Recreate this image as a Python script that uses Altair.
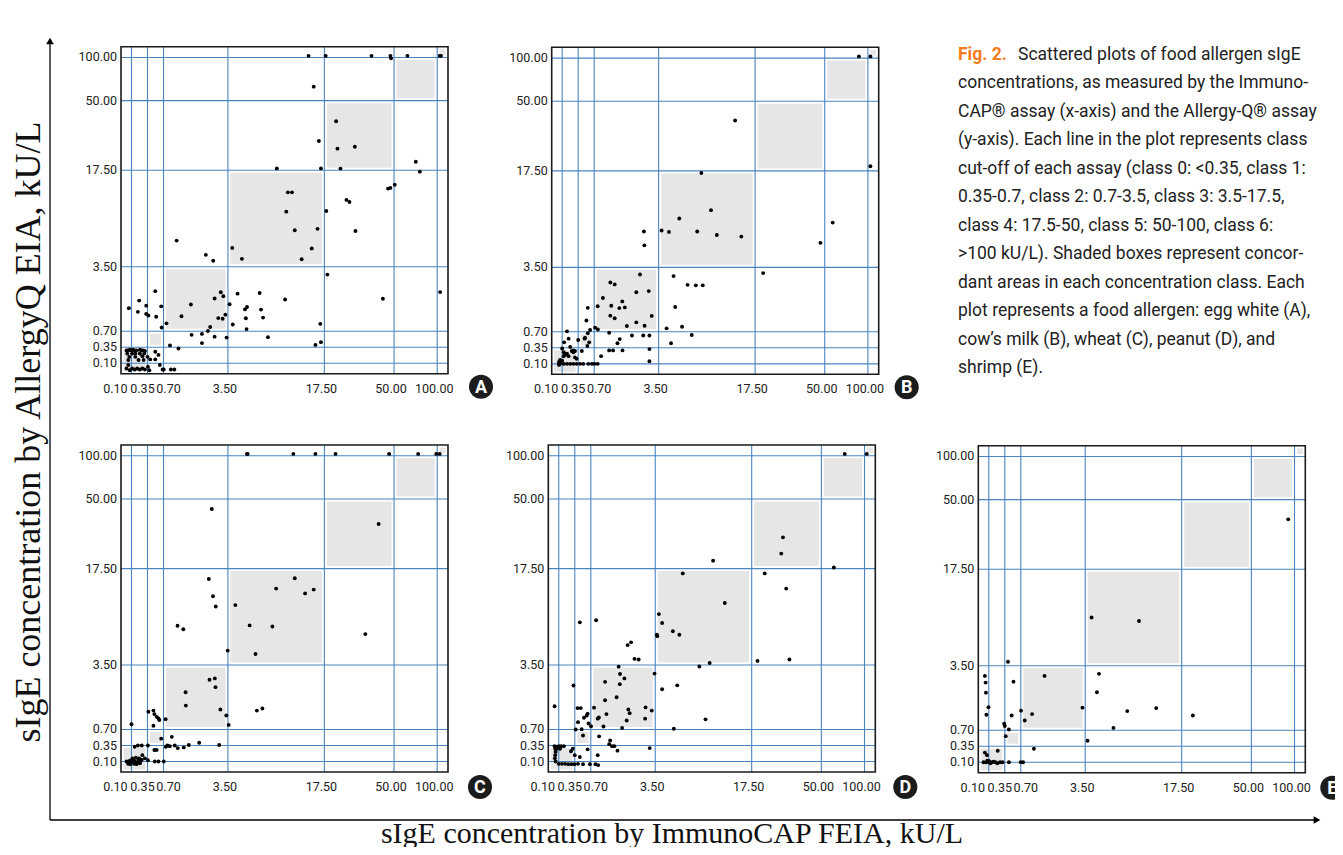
import altair as alt
import pandas as pd

# ---------------- data ----------------
TICKS = [0.1, 0.35, 0.7, 3.5, 17.5, 50, 100]
TICK_LABELS = ["0.10", "0.35", "0.70", "3.50", "17.50", "50.00", "100.00"]
CLASS_LO = [0, 0.35, 0.7, 3.5, 17.5, 50, 100]
CLASS_HI = [0.35, 0.7, 3.5, 17.5, 50, 100, 113]
DOMAIN = [0, 0.1, 0.35, 0.7, 3.5, 17.5, 50, 100, 113]
FRACTIONS = [0, 0.032, 0.081, 0.130, 0.327, 0.622, 0.835, 0.967, 1.0]

panel_A = [(15.2,102),(18.1,102),(39.5,102),(48.3,102),(48.6,99),(65.5,102),(103,102),(104.6,102),
 (15.95,66.2),(22.96,40.4),(16.7,31.2),(23.6,27.6),(31.7,28.5),
 (10.6,18.4),(17.0,18.4),(25.0,18.3),(75.2,21.5),(79.9,17.3),
 (47.2,14.85),(48.3,14.95),(50.8,15.4),(12.2,14.3),(12.8,14.3),(27.8,13.2),(29.2,12.9),
 (11.97,11.5),(18.4,11.6),(13.2,8.8),(16.5,9.0),(32.0,8.7),(1.27,7.3),(4.13,6.24),(15.66,6.15),
 (2.54,5.23),(2.86,4.37),(5.53,4.65),(14.2,4.6),(18.9,3.16),(103.5,2.4),(44.8,2.11),(11.8,2.08),
 (8.1,2.36),(4.9,2.33),(3.3,2.22),(3.19,2.39),(2.92,2.12),(3.74,1.87),(5.97,1.65),(6.27,1.75),
 (1.89,1.86),(1.48,1.35),(3.08,1.27),(3.39,1.42),(3.27,1.24),(6.1,1.26),(8.3,1.64),(8.6,1.29),
 (4.2,0.99),(6.2,0.79),(2.73,0.88),(2.63,0.71),(2.37,0.64),(1.92,0.62),(2.37,0.44),(2.92,0.58),
 (3.44,0.56),(9.3,0.57),(16.9,1.02),(16.2,0.40),(17.0,0.46),(0.83,1.04),(0.66,0.86),(0.65,1.78),
 (0.98,0.39),(1.35,0.33),(0.52,2.44),(0.33,1.81),(0.22,2.03),(0.075,1.7),(0.2,1.54),(0.33,1.45),
 (0.37,1.38),(0.54,1.33),
 (0.053,0.30),(0.066,0.30),(0.084,0.31),(0.10,0.30),(0.127,0.31),(0.153,0.30),(0.18,0.30),
 (0.233,0.31),(0.26,0.30),(0.286,0.30),(0.31,0.29),
 (0.06,0.25),(0.11,0.25),(0.16,0.25),(0.23,0.25),(0.30,0.25),
 (0.08,0.20),(0.16,0.20),(0.27,0.21),(0.35,0.20),
 (0.52,0.28),(0.59,0.23),(0.41,0.16),(0.52,0.16),(0.62,0.083),(0.68,0.04),(0.71,0.04),(1.02,0.04),(1.17,0.04),
 (0.07,0.15),(0.21,0.15),(0.29,0.15),
 (0.053,0.05),(0.084,0.033),(0.11,0.05),(0.15,0.04),(0.19,0.05),(0.23,0.04),(0.27,0.05),(0.31,0.04),
 (0.36,0.067),(0.07,0.083),(0.39,0.033)]

panel_B = [(89.6,102),(103,102),(103,19.7),(14.6,41.0),(9.7,17.2),(11.1,11.8),(6.5,10.6),(3.93,8.85),
 (5.0,8.65),(9.1,8.7),(11.95,8.2),(15.5,7.97),(2.86,8.7),(2.88,6.7),(59.2,10.0),(48.0,7.06),(21.25,3.25),
 (5.67,3.12),(7.7,2.74),(8.9,2.72),(9.9,2.72),(2.69,3.19),(3.07,2.47),(1.40,2.84),(1.59,2.76),(1.08,2.17),
 (2.53,2.42),(0.85,1.81),(1.44,1.83),(1.92,2.02),(1.79,1.73),(2.03,1.76),(0.56,1.74),(1.40,1.40),(1.59,1.29),
 (3.2,1.39),(5.9,1.78),(2.53,1.11),(2.89,0.96),(2.12,0.95),(0.53,1.19),(4.66,0.85),(6.9,0.92),(8.3,0.63),
 (2.34,0.62),(2.83,0.62),(3.1,0.62),(5.3,0.45),(3.1,0.33),(3.1,0.14),(1.35,0.68),(1.81,0.54),(1.71,0.45),
 (1.0,0.22),(1.35,0.31),(1.52,0.31),(1.93,0.31),(0.74,0.88),(0.86,0.80),(0.61,0.78),(0.56,0.67),(0.59,0.47),
 (0.55,0.39),(0.49,0.55),(0.50,0.57),(0.43,0.30),(0.35,0.52),(0.175,0.72),(0.2,0.55),(0.13,0.47),(0.1,0.34),
 (0.225,0.37),(0.275,0.31),(0.30,0.30),(0.25,0.30),
 (0.125,0.28),(0.15,0.25),(0.175,0.26),(0.2,0.22),(0.1,0.15),(0.07,0.13),(0.08,0.16),(0.125,0.22),
 (0.275,0.28),(0.3,0.20),(0.325,0.18),
 (0.07,0.1),(0.08,0.1),(0.125,0.1),(0.175,0.1),(0.225,0.1),(0.275,0.1),(0.325,0.1),(0.39,0.1),
 (0.46,0.1),(0.57,0.1),(0.65,0.1),(0.72,0.1),(0.85,0.1),(0.07,0.09),(0.08,0.12)]

panel_C = [(6.26,102.3),(6.36,102.3),(12.99,102.3),(16.2,102.3),(22.7,102.3),(47.7,102.3),(77.9,102.3),
 (98.9,102.3),(103,102.3),
 (2.80,45.3),(42.8,38.3),(2.67,16.0),(13.2,16.1),(10.5,14.6),(14.7,13.9),(15.95,14.45),(2.85,13.5),
 (2.97,12.0),(4.57,12.2),(1.31,9.2),(1.56,8.7),(6.65,9.26),(9.95,9.1),(36.6,8.0),(3.49,5.6),(7.5,5.1),
 (2.7,2.86),(2.93,2.92),(2.96,2.54),(1.66,2.32),(1.67,1.74),(3.17,1.57),(3.43,1.31),(3.6,0.9),(7.7,1.52),
 (8.5,1.61),(0.79,1.15),(0.37,1.47),(0.48,1.52),(0.5,1.37),(0.55,1.25),(0.59,1.18),(0.61,1.11),(0.48,0.86),
 (0.1,0.93),(0.65,0.5),(1.06,0.54),
 (0.87,0.35),(0.8,0.33),(0.97,0.34),(1.19,0.35),(1.32,0.31),(1.58,0.32),(1.8,0.36),(2.25,0.41),(3.12,0.36),
 (0.15,0.33),(0.2,0.35),(0.26,0.35),(0.36,0.35),(0.5,0.28),(0.55,0.28),(0.27,0.2),(0.31,0.15),(0.36,0.12),
 (0.51,0.1),(0.59,0.1),(0.71,0.1),
 (0.053,0.1),(0.069,0.09),(0.084,0.115),(0.10,0.1),(0.127,0.125),(0.153,0.1),(0.18,0.09),(0.21,0.125),
 (0.233,0.1),(0.069,0.078),(0.09,0.075),(0.14,0.078),(0.18,0.075),(0.233,0.084),(0.116,0.15),(0.17,0.16),
 (0.22,0.15),(0.26,0.125)]

panel_D = [(77.1,102.3),(102.7,102.3),(32.1,32.1),(31.3,24.5),(64.5,18.0),(11.9,21.2),(7.5,16.8),(23.6,16.8),
 (33.6,14.6),(13.6,12.5),(4.03,10.9),(4.5,9.6),(6.06,8.4),(7.0,7.9),(3.74,7.9),(3.8,7.7),(0.46,9.7),(0.93,10.0),
 (2.3,6.4),(2.45,6.8),(2.6,4.4),(2.78,4.3),(9.9,3.44),(11.4,3.8),(20.2,4.1),(35.1,4.3),
 (1.91,3.43),(1.97,3.11),(2.16,2.92),(3.47,3.13),(1.32,2.77),(1.96,2.67),(4.5,2.45),(6.7,2.62),(0.33,2.61),
 (1.32,1.97),(1.82,2.1),(1.38,1.37),(2.33,1.57),(2.39,1.41),(2.26,1.09),(2.06,0.77),(1.25,0.83),(1.05,1.22),
 (1.0,1.17),(0.84,1.65),(3.08,1.66),(3.35,1.52),(3.06,1.17),(10.8,1.14),(6.2,0.73),(0.06,1.71),(0.41,1.63),
 (0.48,1.63),(0.63,1.39),(0.61,1.3),(0.55,1.21),(0.42,1.02),(0.65,0.96),(0.71,0.84),(0.37,0.70),(0.5,0.71),
 (0.53,0.57),
 (1.06,0.55),(1.54,0.46),(1.5,0.38),(1.62,0.34),(1.72,0.34),(1.86,0.27),(0.63,0.29),(0.46,0.17),(0.35,0.2),
 (1.0,0.2),(3.26,0.31),(0.29,0.26),(0.32,0.3),
 (0.06,0.34),(0.073,0.33),(0.1,0.34),(0.134,0.34),(0.18,0.34),(0.066,0.3),(0.07,0.25),(0.066,0.2),
 (0.063,0.15),(0.07,0.1),(0.1,0.078),(0.15,0.078),(0.2,0.078),(0.25,0.075),(0.3,0.075),(0.345,0.075),
 (0.42,0.078),(0.53,0.075),(0.68,0.075),(0.9,0.075),(1.02,0.066),(0.08,0.3),(0.12,0.3)]

panel_E = [(92.7,40.8),(4.42,10.5),(11.3,10.0),(0.42,4.08),(1.73,3.06),(5.5,3.15),(5.2,2.35),(0.063,3.06),
 (0.07,2.77),(0.073,2.33),(0.097,1.7),(0.077,1.37),(0.54,2.81),(3.38,1.68),(9.6,1.53),(13.8,1.66),
 (22.7,1.34),(7.6,0.8),(3.84,0.47),(0.5,1.34),(0.71,1.55),(1.19,1.4),(0.87,1.12),(0.34,0.98),(0.35,0.88),
 (0.44,0.73),(0.37,0.57),(1.27,0.31),(0.24,0.28),(0.063,0.25),(0.083,0.21),
 (0.05,0.1),(0.077,0.1),(0.085,0.125),(0.115,0.1),(0.15,0.1),(0.175,0.11),(0.205,0.1),(0.235,0.09),
 (0.275,0.1),(0.315,0.1),(0.44,0.1),(0.70,0.1),(0.80,0.1),(0.125,0.09),(0.1,0.12)]

CAPTION_FIG = "Fig. 2."
CAPTION_FIRST = "Scattered plots of food allergen sIgE"
CAPTION_REST = [
    "concentrations, as measured by the Immuno-",
    "CAP\u00ae assay (x-axis) and the Allergy-Q\u00ae assay",
    "(y-axis). Each line in the plot represents class",
    "cut-off of each assay (class 0: <0.35, class 1:",
    "0.35-0.7, class 2: 0.7-3.5, class 3: 3.5-17.5,",
    "class 4: 17.5-50, class 5: 50-100, class 6:",
    ">100 kU/L). Shaded boxes represent concor-",
    "dant areas in each concentration class. Each",
    "plot represents a food allergen: egg white (A),",
    "cow\u2019s milk (B), wheat (C), peanut (D), and",
    "shrimp (E).",
]
Y_TITLE = "sIgE concentration by AllergyQ EIA, kU/L"
X_TITLE = "sIgE concentration by ImmunoCAP FEIA, kU/L"

# ---------------- style ----------------
BLUE = "#4a84bf"
NARROW = "Roboto, sans-serif"
SERIF = "Liberation Serif, Times New Roman, serif"
W = H = 327

tick_df = pd.DataFrame({"v": TICKS, "lab": TICK_LABELS})
box_df = pd.DataFrame({"lo": CLASS_LO, "hi": CLASS_HI})
one_df = pd.DataFrame({"k": [0]})


def panel(letter, pts, left, top, cdx, cdy):
    xs = alt.Scale(domain=DOMAIN, range=[left + f * W for f in FRACTIONS], nice=False, zero=False)
    ys = alt.Scale(domain=DOMAIN, range=[top + H - f * H for f in FRACTIONS], nice=False, zero=False)
    pdf = pd.DataFrame(pts, columns=["x", "y"])

    boxes = alt.Chart(box_df).mark_rect(fill="#e6e6e6", stroke="white", strokeWidth=5).encode(
        x=alt.X("lo:Q", scale=xs, axis=None), x2="hi:Q",
        y=alt.Y("lo:Q", scale=ys, axis=None), y2="hi:Q")
    vgrid = alt.Chart(tick_df).mark_rule(color=BLUE, strokeWidth=1.1).encode(
        x=alt.X("v:Q", scale=xs, axis=None),
        y=alt.YDatum(DOMAIN[0], scale=ys, axis=None), y2=alt.Y2Datum(DOMAIN[-1]))
    hgrid = alt.Chart(tick_df).mark_rule(color=BLUE, strokeWidth=1.1).encode(
        y=alt.Y("v:Q", scale=ys, axis=None),
        x=alt.XDatum(DOMAIN[0], scale=xs, axis=None), x2=alt.X2Datum(DOMAIN[-1]))
    frame = alt.Chart(one_df).mark_rect(fillOpacity=0, stroke="#1a1a1a", strokeWidth=1.6).encode(
        x=alt.XDatum(DOMAIN[0], scale=xs, axis=None), x2=alt.X2Datum(DOMAIN[-1]),
        y=alt.YDatum(DOMAIN[0], scale=ys, axis=None), y2=alt.Y2Datum(DOMAIN[-1]))
    dots = alt.Chart(pdf).mark_circle(size=15, color="black", opacity=1).encode(
        x=alt.X("x:Q", scale=xs, axis=None), y=alt.Y("y:Q", scale=ys, axis=None))

    def xlab(flt, dx):
        return alt.Chart(tick_df).transform_filter(flt).mark_text(
            font=NARROW, fontSize=12.5, color="#222222", dx=dx, baseline="middle").encode(
            x=alt.X("v:Q", scale=xs, axis=None), y=alt.value(top + H + 15), text="lab:N")

    xl1 = xlab("datum.v == 0.1", -16)
    xl2 = xlab("datum.v == 0.7", 5)
    xl4 = xlab("datum.v == 0.35", -5)
    xl3 = xlab("datum.v > 0.7", -3)
    yl = alt.Chart(tick_df).mark_text(font=NARROW, fontSize=12.5, color="#222222", align="right",
                                      baseline="middle").encode(
        y=alt.Y("v:Q", scale=ys, axis=None), x=alt.value(left - 4), text="lab:N")
    ldf = pd.DataFrame({"letter": [letter]})
    circ = alt.Chart(ldf).mark_circle(size=580, color="#1c1c1c", opacity=1).encode(
        x=alt.value(left + W + cdx), y=alt.value(top + H + cdy))
    ltxt = alt.Chart(ldf).mark_text(font="Roboto", fontWeight="bold", fontSize=18,
                                    color="white", baseline="middle").encode(
        x=alt.value(left + W + cdx), y=alt.value(top + H + cdy + 1), text="letter:N")
    return alt.layer(boxes, vgrid, hgrid, frame, dots, xl1, xl2, xl4, xl3, yl, circ, ltxt)


panels = [
    panel("A", panel_A, 113, 38.7, 33, 13),
    panel("B", panel_B, 543.7, 39.3, 28, 13),
    panel("C", panel_C, 113, 437, 32, 15),
    panel("D", panel_D, 540.3, 437, 30, 15),
    panel("E", panel_E, 970.3, 437.7, 27, 15),
]

base = alt.Chart(one_df)
yaxis_line = base.mark_rule(color="black", strokeWidth=1.3).encode(
    x=alt.value(42), y=alt.value(812), y2=alt.value(36))
xaxis_line = base.mark_rule(color="black", strokeWidth=1.3).encode(
    x=alt.value(42), x2=alt.value(1306), y=alt.value(812))
yhead = base.mark_point(shape="triangle-up", filled=True, size=60, color="black", opacity=1).encode(
    x=alt.value(42), y=alt.value(33))
xhead = base.mark_point(shape="triangle-right", filled=True, size=60, color="black", opacity=1).encode(
    x=alt.value(1309), y=alt.value(812))
ytitle = base.mark_text(font=SERIF, fontSize=36, angle=270, color="#111111", baseline="middle").encode(
    x=alt.value(21), y=alt.value(424), text=alt.value(Y_TITLE))
xtitle = base.mark_text(font=SERIF, fontSize=30, color="#111111", baseline="middle").encode(
    x=alt.value(664), y=alt.value(826), text=alt.value(X_TITLE))
cap_fig = base.mark_text(font=NARROW, fontSize=17.5, fontWeight="bold", color="#f47c20", align="left",
                         baseline="middle").encode(
    x=alt.value(950), y=alt.value(47), text=alt.value(CAPTION_FIG))
cap_first = base.mark_text(font=NARROW, fontSize=17.5, color="#222222", align="left",
                           baseline="middle").encode(
    x=alt.value(1010), y=alt.value(47), text=alt.value(CAPTION_FIRST))
cap_rest = base.mark_text(font=NARROW, fontSize=17.5, color="#222222", align="left", baseline="top",
                          lineBreak="\n", lineHeight=28.5).encode(
    x=alt.value(950), y=alt.value(66), text=alt.value("\n".join(CAPTION_REST)))

chart = alt.layer(
    *panels, yaxis_line, xaxis_line, yhead, xhead, ytitle, xtitle, cap_fig, cap_first, cap_rest
).resolve_scale(x="independent", y="independent").properties(
    width=1327, height=839, padding=0, background="white",
    autosize=alt.AutoSizeParams(type="none"),
).configure_view(stroke=None)

chart.save("out.html", embed_options={"renderer": "svg", "actions": False})
